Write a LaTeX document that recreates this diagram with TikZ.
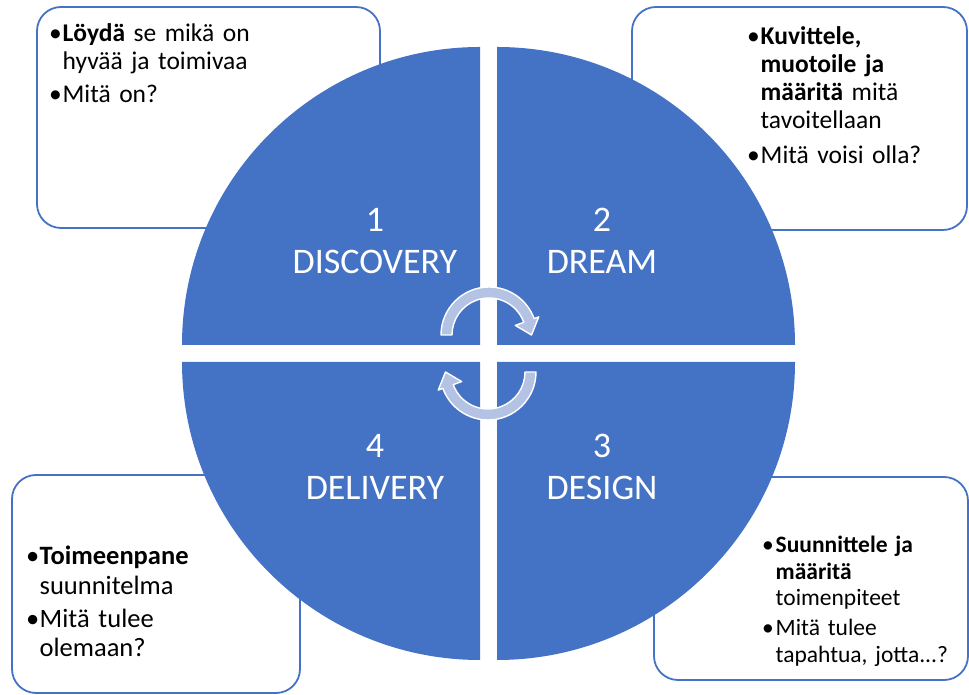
\documentclass[tikz,border=0pt]{standalone}
\usepackage{fontspec}
\setmainfont{Carlito}
\usepackage{tikz}
\definecolor{PhaseBlue}{HTML}{4472C4}
\definecolor{CycleBlue}{HTML}{B4C3E3}

% bullet with hanging indent for the note texts
\newcommand{\blt}{\makebox[13.5pt][l]{\textbullet}}
\newcommand{\ind}{\hspace*{13.5pt}}

\begin{document}
\begin{tikzpicture}[
  x=1pt, y=1pt,
  note/.style={rectangle, rounded corners=24pt, draw=PhaseBlue, line width=1.8pt,
               fill=white, inner sep=0pt},
  notetext/.style={anchor=base west, inner sep=0pt, align=left, text width=240pt,
                   font=\fontsize{25.5}{28}\selectfont},
  quarter/.style={fill=PhaseBlue},
  phase/.style={text=white, align=center, inner sep=0pt,
                font=\fontsize{36}{42}\selectfont},
  cyclearrow/.style={fill=CycleBlue, draw=white, line width=1.4pt, line join=round},
]
\useasboundingbox (0,0) rectangle (969,695);

% note boxes, partly hidden by the circle
\node[note, minimum width=343pt, minimum height=221pt] (note1) at (208.5,577.5) {};
\node[note, minimum width=335pt, minimum height=223pt] (note2) at (799.5,576.5) {};
\node[note, minimum width=314pt, minimum height=203pt] (note3) at (811,116.5) {};
\node[note, minimum width=288pt, minimum height=218pt] (note4) at (156,111) {};

% four quarters of the circle
\fill[quarter] (480,350) -- (182,350) arc[start angle=180, end angle=90, radius=298] -- cycle;
\fill[quarter] (497,350) -- (497,648) arc[start angle=90, end angle=0, radius=298] -- cycle;
\fill[quarter] (497,333) -- (795,333) arc[start angle=0, end angle=-90, radius=298] -- cycle;
\fill[quarter] (480,333) -- (480,35) arc[start angle=-90, end angle=-180, radius=298] -- cycle;

\node[phase] (discovery) at (375,454) {1\\DISCOVERY};
\node[phase] (dream)     at (602,454) {2\\DREAM};
\node[phase] (design)    at (602,228) {3\\DESIGN};
\node[phase] (delivery)  at (375,228) {4\\DELIVERY};

% the two turning arrows in the middle
\coordinate (hub) at (488.5,341.5);
\foreach \turn in {0,180}
  \filldraw[cyclearrow, rotate around={\turn:(hub)}, shift={(489,360)}]
    (180:48) arc[start angle=180, end angle=20, radius=48] -- (20:53) -- (0:42.5)
    -- (20:28) -- (20:37) arc[start angle=20, end angle=180, radius=37] -- cycle;

% texts of the notes
\node[notetext] (text1) at (49,653)
  {\blt\textbf{Löydä} se mikä on\\\ind hyvää ja toimivaa\\[5pt]\blt Mitä on?};
\node[notetext] (text2) at (747,650)
  {\blt\textbf{Kuvittele,}\\\ind\textbf{muotoile ja}\\\ind\textbf{määritä} mitä\\
   \ind tavoitellaan\\[7pt]\blt Mitä voisi olla?};
\node[notetext, font=\fontsize{23.5}{26.5}\selectfont] (text3) at (762,142)
  {\blt\textbf{Suunnittele ja}\\\ind\textbf{määritä}\\\ind toimenpiteet\\[3.5pt]
   \blt Mitä tulee\\\ind tapahtua, jotta...?};
\node[notetext, font=\fontsize{26.5}{29.5}\selectfont] (text4) at (26,130)
  {\blt\textbf{Toimeenpane}\\\ind suunnitelma\\[3.5pt]\blt Mitä tulee\\\ind olemaan?};

\end{tikzpicture}
\end{document}
